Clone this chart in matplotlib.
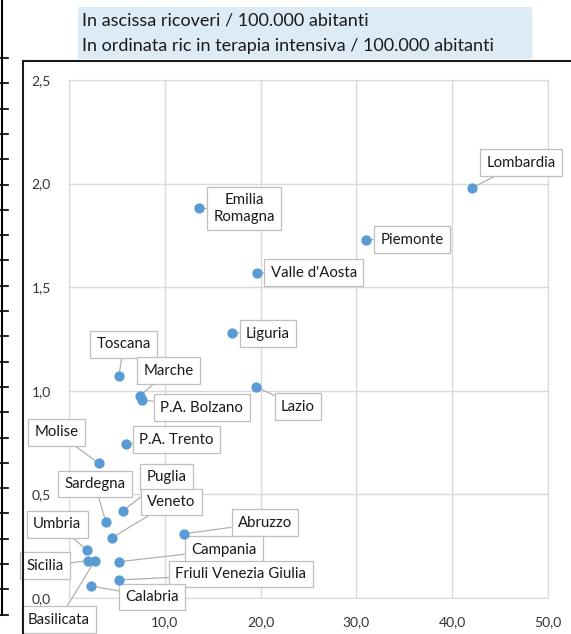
import matplotlib.pyplot as plt
from matplotlib.lines import Line2D
from matplotlib.patches import Rectangle

plt.rcParams['font.family'] = ['Lato', 'DejaVu Sans']

# regione, ricoveri / 100.000 ab., terapia intensiva / 100.000 ab.
regioni = ["Lombardia", "Piemonte", "Valle d'Aosta", "Emilia\nRomagna", "Liguria",
           "Toscana", "Marche", "P.A. Bolzano", "Lazio", "P.A. Trento", "Molise",
           "Sardegna", "Puglia", "Veneto", "Abruzzo", "Umbria", "Sicilia",
           "Basilicata", "Campania", "Friuli Venezia Giulia", "Calabria"]
ricoveri = [42.1, 31.0, 19.6, 13.6, 17.0,
            5.2, 7.4, 7.6, 19.5, 5.9, 3.1,
            3.85, 5.6, 4.45, 12.0, 1.9, 2.0,
            2.7, 5.2, 5.2, 2.3]
intensiva = [1.98, 1.73, 1.57, 1.88, 1.28,
             1.07, 0.976, 0.957, 1.02, 0.745, 0.65,
             0.366, 0.42, 0.29, 0.31, 0.23, 0.18,
             0.18, 0.175, 0.087, 0.058]

xticks = [0, 10, 20, 30, 40, 50]
yticks = [0, 0.5, 1.0, 1.5, 2.0, 2.5]

# spostamento delle etichette (pixel)
offsets = {
    "Lombardia": (49, 25), "Piemonte": (46, 0), "Valle d'Aosta": (57, 0),
    "Emilia\nRomagna": (45, 0), "Liguria": (36, -1), "Toscana": (5, 32),
    "Marche": (29, 25), "P.A. Bolzano": (60, -8), "Lazio": (42, -20),
    "P.A. Trento": (51, 4), "Molise": (-42, 31), "Sardegna": (-11, 38),
    "Puglia": (44, 34), "Veneto": (60, 36), "Abruzzo": (81, 11),
    "Umbria": (-30, 26), "Sicilia": (-43, -5), "Basilicata": (-36, -59),
    "Campania": (105, 12), "Friuli Venezia Giulia": (122, 6), "Calabria": (61, -11),
}

W, H = 571, 634
fig = plt.figure(figsize=(W/100, H/100), dpi=100)
ax = fig.add_axes([69/W, 1-598/H, (548-69)/W, (598-80)/H])

ax.scatter(ricoveri, intensiva, s=55, color='#5b9bd5', zorder=4, linewidths=0)

for nome, x, y in zip(regioni, ricoveri, intensiva):
    dx, dy = offsets[nome]
    ax.annotate(nome, (x, y), xytext=(dx, dy), textcoords='offset pixels',
                ha='center', va='center', fontsize=10.8, color='#1a1a1a',
                multialignment='center', zorder=3, linespacing=1.25,
                bbox=dict(boxstyle='square,pad=0.42', fc='white', ec='#bfbfbf', lw=0.9),
                arrowprops=dict(arrowstyle='-', color='#b0b0b0', lw=0.9,
                                shrinkA=0, shrinkB=0))

ax.set_xlim(0, 50)
ax.set_ylim(0, 2.5)
ax.set_xticks(xticks)
ax.set_yticks(yticks)
ax.set_xticklabels([f"{v:.1f}".replace('.', ',') for v in xticks])
ax.set_yticklabels([f"{v:.1f}".replace('.', ',') for v in yticks])
ax.tick_params(length=0, labelsize=10, labelcolor='#333333')
ax.tick_params(axis='x', pad=13)
ax.tick_params(axis='y', pad=13)
ax.grid(True, color='#d9d9d9', lw=1)
ax.set_axisbelow(True)
for s in ax.spines.values():
    s.set_color('#d9d9d9')

# riquadro del titolo
fig.patches.append(Rectangle((78/W, 1-59/H), (532-78)/W, 52/H,
                             transform=fig.transFigure, fc='#ddebf7', ec='none'))
fig.text(82/W, 1-21/H, "In ascissa ricoveri / 100.000 abitanti",
         fontsize=13, color='#1a1a1a', va='center')
fig.text(82/W, 1-46/H, "In ordinata ric in terapia intensiva / 100.000 abitanti",
         fontsize=13, color='#1a1a1a', va='center')

# bordo del grafico e griglia del foglio a sinistra
fig.add_artist(Line2D([23/W, 23/W], [0, 1-61/H], color='#1a1a1a', lw=1.5))
fig.add_artist(Line2D([23/W, 1], [1-61/H, 1-61/H], color='#1a1a1a', lw=1.5))
fig.add_artist(Line2D([2/W, 2/W], [1-615/H, 1], color='black', lw=1.5))
for k in range(23):
    yy = 1 - (58 + 25.3*k)/H
    fig.add_artist(Line2D([0, 8/W], [yy, yy], color='black', lw=1.2))

fig.savefig('out.png', dpi=100)
